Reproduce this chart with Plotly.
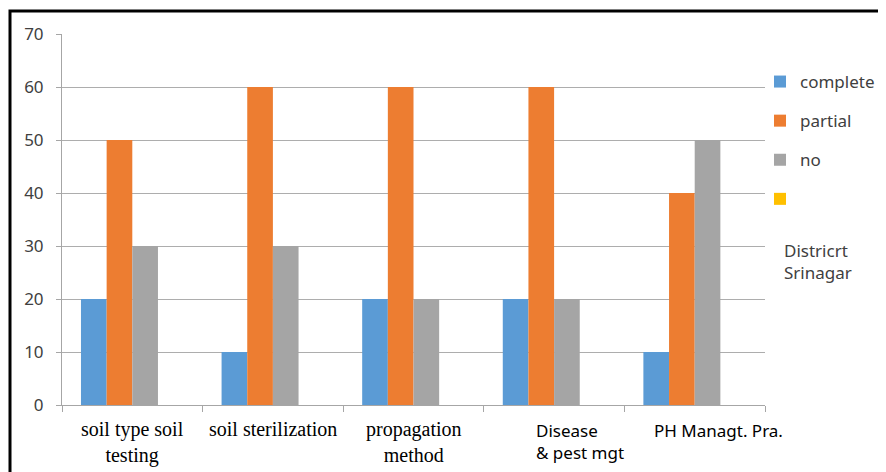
import plotly.graph_objects as go

categories = ["soil type soil testing", "soil sterilization", "propagation method",
              "Disease & pest mgt", "PH Managt. Pra."]
tick_labels = [
    "soil type soil<br>testing",
    "soil sterilization",
    "propagation<br>method",
    "Disease<br>& pest mgt",
    "PH Managt. Pra.",
]
series_names = ["complete", "partial", "no", " "]
complete = [20, 10, 20, 20, 10]
partial = [50, 60, 60, 60, 40]
no = [30, 30, 20, 20, 50]
fourth = [0, 0, 0, 0, 0]
colors = ["#5B9BD5", "#ED7D31", "#A5A5A5", "#FFC000"]
y_ticks = [0, 10, 20, 30, 40, 50, 60, 70]

# label styling (not data)
label_fonts = ["Liberation Serif", "Liberation Serif", "Liberation Serif", "Noto Sans", "Noto Sans"]
label_sizes = [20, 20, 20, 17, 17]
label_xshift = [0, 0, 0, -20, 24]
label_yshift = [-11, -11, -11, -12, -12]
label_anchor = ["center", "center", "center", "left", "center"]
label_align = ["center", "center", "center", "left", "center"]

fig = go.Figure()
for name, vals, col in zip(series_names, [complete, partial, no, fourth], colors):
    fig.add_trace(go.Bar(x=categories, y=vals, name=name, marker_color=col,
                         marker_line_width=0, legendgroup=name))

# page body has an 8px margin; size the figure so it fills the 886x472 window
OFF = 8
W, H = 886 - OFF, 472 - OFF
l, r, t, b = 62 - OFF, 886 - 765, 34 - OFF, 472 - 405
pw, ph = W - l - r, H - t - b

def px(xa):
    return (xa - OFF - l) / pw

def py(ya):
    return (H - b - (ya - OFF)) / ph

annotations = [dict(text="Districrt<br>Srinagar", xref="paper", yref="paper",
                    x=px(782), y=py(237), xanchor="left", yanchor="top",
                    showarrow=False, align="left",
                    font=dict(family="Noto Sans", size=17, color="#404040"))]
for cat, txt, fnt, sz, xs, ys, anc, al in zip(categories, tick_labels, label_fonts, label_sizes,
                                              label_xshift, label_yshift, label_anchor, label_align):
    annotations.append(dict(text=txt, x=cat, xref="x", y=0, yref="paper",
                            xanchor=anc, yanchor="top", yshift=ys, xshift=xs,
                            showarrow=False, align=al,
                            font=dict(family=fnt, size=sz, color="#000000")))

fig.update_layout(
    width=W, height=H,
    margin=dict(l=l, r=r, t=t, b=b, autoexpand=False),
    paper_bgcolor="white", plot_bgcolor="white",
    barmode="group", bargap=0.27, bargroupgap=0,
    font=dict(family="Noto Sans", size=15, color="#404040"),
    legend=dict(x=px(760), y=py(64), xanchor="left", yanchor="top",
                font=dict(size=17, color="#404040"), tracegroupgap=14,
                itemwidth=30, bgcolor="rgba(0,0,0,0)"),
    xaxis=dict(type="category", range=[-0.5, len(categories) - 0.5], autorange=False,
               automargin=False, showticklabels=False,
               showline=True, linecolor="#A6A6A6", linewidth=1,
               ticks="outside", tickson="boundaries", ticklen=6, tickcolor="#A6A6A6",
               showgrid=False),
    yaxis=dict(range=[0, 70], tickvals=y_ticks, automargin=False,
               showline=True, linecolor="#A6A6A6",
               ticks="outside", ticklen=5, tickcolor="#A6A6A6", ticklabelstandoff=9,
               gridcolor="#ADADAD", gridwidth=1, zeroline=False,
               tickfont=dict(size=17, color="#404040")),
    shapes=[dict(type="rect", xref="paper", yref="paper",
                 x0=px(10), x1=px(960), y0=py(11), y1=py(560),
                 line=dict(color="black", width=3), fillcolor="rgba(0,0,0,0)")],
    annotations=annotations,
)

fig.write_html("out.html")
